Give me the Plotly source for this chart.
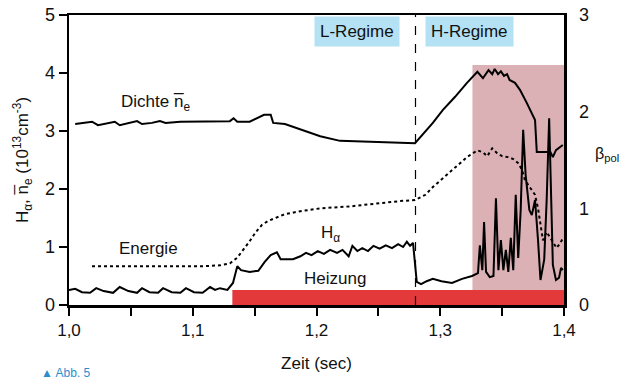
import plotly.graph_objects as go

# ---- data ----
halpha_t = [1.000, 1.005, 1.0105, 1.017, 1.022, 1.028, 1.0356, 1.041, 1.048, 1.055, 1.059, 1.065,
            1.072, 1.076, 1.083, 1.090, 1.0945, 1.101, 1.108, 1.114, 1.118, 1.122, 1.128, 1.1325,
            1.136, 1.139, 1.146, 1.153, 1.158, 1.163, 1.168, 1.171, 1.181, 1.187, 1.1915, 1.196,
            1.201, 1.206, 1.211, 1.2166, 1.221, 1.226, 1.229, 1.233, 1.237, 1.2416, 1.246, 1.251,
            1.256, 1.261, 1.266, 1.270, 1.273, 1.2756, 1.278, 1.281, 1.2845, 1.289, 1.294, 1.301,
            1.3095, 1.3176, 1.3257, 1.3305, 1.332, 1.334, 1.3354, 1.337, 1.340, 1.343, 1.345, 1.347,
            1.349, 1.351, 1.353, 1.355, 1.357, 1.359, 1.361, 1.363, 1.365, 1.367, 1.369, 1.372,
            1.374, 1.3766, 1.379, 1.381, 1.384, 1.386, 1.388, 1.3895, 1.391, 1.3935, 1.396, 1.3976, 1.399]
halpha_v = [0.26, 0.28, 0.22, 0.21, 0.29, 0.24, 0.21, 0.31, 0.24, 0.21, 0.29, 0.22,
            0.21, 0.29, 0.22, 0.21, 0.29, 0.22, 0.21, 0.31, 0.26, 0.29, 0.26, 0.38,
            0.67, 0.60, 0.57, 0.59, 0.74, 0.86, 0.91, 0.79, 0.79, 0.84, 0.90, 0.86,
            0.93, 0.88, 0.95, 0.90, 0.95, 0.84, 1.02, 0.93, 0.98, 0.93, 1.02, 0.97,
            1.03, 0.98, 1.05, 1.00, 1.09, 1.02, 1.07, 0.40, 0.36, 0.41, 0.45, 0.41,
            0.38, 0.45, 0.50, 0.55, 1.03, 0.60, 1.43, 0.57, 0.48, 0.50, 1.84, 0.60,
            1.12, 0.60, 0.95, 0.57, 1.16, 0.60, 1.90, 0.81, 1.64, 3.02, 2.24, 1.64,
            1.55, 1.81, 1.12, 0.43, 0.78, 1.81, 3.22, 1.81, 0.69, 0.43, 0.47, 0.64, 0.60]

dichte_t = [1.005, 1.013, 1.0186, 1.0234, 1.0315, 1.037, 1.041, 1.049, 1.055, 1.059, 1.067, 1.0735,
            1.078, 1.090, 1.102, 1.118, 1.130, 1.133, 1.136, 1.146, 1.153, 1.1576, 1.163, 1.165,
            1.1745, 1.187, 1.203, 1.219, 1.243, 1.2675, 1.2796, 1.294, 1.302, 1.312, 1.3216, 1.330,
            1.3345, 1.339, 1.342, 1.344, 1.3467, 1.349, 1.3515, 1.354, 1.356, 1.3604, 1.3644, 1.370,
            1.3766, 1.378, 1.389, 1.391, 1.3935, 1.399]
dichte_v = [3.12, 3.14, 3.16, 3.10, 3.14, 3.16, 3.10, 3.14, 3.17, 3.12, 3.14, 3.17,
            3.14, 3.16, 3.16, 3.16, 3.17, 3.22, 3.16, 3.16, 3.24, 3.28, 3.28, 3.14,
            3.12, 3.03, 2.91, 2.83, 2.81, 2.79, 2.79, 3.14, 3.36, 3.59, 3.83, 4.02,
            3.91, 4.05, 3.98, 4.07, 3.98, 4.03, 3.95, 3.98, 3.88, 3.83, 3.71, 3.48,
            3.19, 2.64, 2.64, 2.55, 2.67, 2.76]

energie_t = [1.0186, 1.065, 1.106, 1.122, 1.130, 1.136, 1.141, 1.146, 1.151, 1.156, 1.161, 1.1665,
             1.1745, 1.187, 1.203, 1.227, 1.251, 1.2675, 1.2796, 1.288, 1.294, 1.302, 1.312, 1.3216,
             1.330, 1.3345, 1.338, 1.342, 1.346, 1.350, 1.3547, 1.359, 1.3628, 1.366, 1.3685, 1.3725,
             1.3766, 1.379, 1.381, 1.383, 1.386, 1.389, 1.392, 1.394, 1.397, 1.399]
energie_v = [0.40, 0.40, 0.40, 0.41, 0.43, 0.49, 0.57, 0.66, 0.755, 0.83, 0.87, 0.90,
             0.94, 0.97, 1.00, 1.02, 1.055, 1.075, 1.086, 1.14, 1.22, 1.31, 1.42, 1.53,
             1.60, 1.58, 1.54, 1.62, 1.57, 1.54, 1.53, 1.51, 1.47, 1.40, 1.29, 1.21,
             1.14, 1.00, 0.83, 0.67, 0.755, 0.69, 0.62, 0.59, 0.64, 0.69]

heizung_range = [1.132, 1.4]
heizung_height = 0.26
hregime_range = [1.326, 1.4]
hregime_top = 4.14
transition_t = 1.28

x_tickvals = [1.0, 1.05, 1.1, 1.15, 1.2, 1.25, 1.3, 1.35, 1.4]
x_ticktext = ["1,0", "", "1,1", "", "1,2", "", "1,3", "", "1,4"]
y_left_ticks = [0, 1, 2, 3, 4, 5]
y_right_ticks = [0, 1, 2, 3]

FONT = "Liberation Sans, Arial, Helvetica, sans-serif"

fig = go.Figure()

fig.add_trace(go.Scatter(x=dichte_t, y=dichte_v, mode="lines",
                         line=dict(color="black", width=2), showlegend=False))
fig.add_trace(go.Scatter(x=halpha_t, y=halpha_v, mode="lines",
                         line=dict(color="black", width=2), showlegend=False))
fig.add_trace(go.Scatter(x=energie_t, y=energie_v, mode="lines", yaxis="y2",
                         line=dict(color="black", width=2, dash="dot"), showlegend=False))

# H-regime shading (below)
fig.add_shape(type="rect", xref="x", yref="y", x0=hregime_range[0], x1=hregime_range[1],
              y0=heizung_height, y1=hregime_top, fillcolor="#dcb1b5", line_width=0, layer="below")
# heating bar
fig.add_shape(type="rect", xref="x", yref="y", x0=heizung_range[0], x1=heizung_range[1],
              y0=0, y1=heizung_height, fillcolor="#e4393b", line_width=0, layer="above")
# transition line
fig.add_shape(type="line", xref="x", yref="y", x0=transition_t, x1=transition_t, y0=0, y1=5,
              line=dict(color="black", width=1.2, dash="dash"))

ann_font = dict(family=FONT, size=17, color="#111")
fig.add_annotation(x=1.0695, y=3.48, text="Dichte n\u0305<sub>e</sub>", showarrow=False, font=ann_font)
fig.add_annotation(x=1.064, y=0.97, text="Energie", showarrow=False, font=ann_font)
fig.add_annotation(x=1.211, y=1.22, text="H<sub>\u03b1</sub>", showarrow=False, font=ann_font)
fig.add_annotation(x=1.215, y=0.45, text="Heizung", showarrow=False, font=ann_font)
fig.add_annotation(x=1.2325, y=4.71, text="L-Regime", showarrow=False, font=ann_font,
                   bgcolor="#b4e1f4", borderpad=5)
fig.add_annotation(x=1.324, y=4.71, text="H-Regime", showarrow=False, font=ann_font,
                   bgcolor="#b4e1f4", borderpad=5)
fig.add_annotation(xref="paper", yref="paper", x=1.058, y=0.52, xanchor="left",
                   text="\u03b2<sub>pol</sub>", showarrow=False,
                   font=dict(family=FONT, size=16, color="#111"))
fig.add_annotation(xref="paper", yref="paper", x=-0.06, y=-0.235, xanchor="left", yanchor="middle",
                   text="\u25b2 Abb. 5", showarrow=False,
                   font=dict(family=FONT, size=12, color="#2a8fd0"))

fig.update_layout(
    width=619, height=379,
    margin=dict(l=69, r=55, t=15, b=74, autoexpand=False),
    paper_bgcolor="white", plot_bgcolor="white",
    font=dict(family=FONT, size=17, color="#111"),
    xaxis=dict(range=[1.0, 1.4], tickvals=x_tickvals, ticktext=x_ticktext,
               ticks="outside", ticklen=8, tickwidth=2, tickcolor="black",
               showline=True, linecolor="black", linewidth=2.5, mirror=True,
               showgrid=False, zeroline=False, automargin=False,
               tickfont=dict(size=17), ticklabeloverflow="allow",
               title=dict(text="Zeit (sec)", standoff=18, font=dict(size=17))),
    yaxis=dict(range=[0, 5], tickvals=y_left_ticks,
               ticks="outside", ticklen=8, tickwidth=2, tickcolor="black",
               showline=True, linecolor="black", linewidth=2.5, mirror=True,
               showgrid=False, zeroline=False, automargin=False,
               tickfont=dict(size=18), ticklabeloverflow="allow",
               title=dict(text="H<sub>\u03b1</sub>, n\u0305<sub>e</sub> (10<sup>13</sup>cm<sup>-3</sup>)",
                          standoff=12, font=dict(size=17))),
    yaxis2=dict(range=[0, 3], tickvals=y_right_ticks, overlaying="y", side="right",
                showline=False, ticks="", showgrid=False, zeroline=False, automargin=False,
                tickfont=dict(size=18), ticklabelstandoff=14, ticklabeloverflow="allow"),
)

# remove the default page margin so the figure fills the 619x379 window exactly
fig.write_html("out.html", config={"displayModeBar": False, "staticPlot": True},
               post_script="document.body.style.margin='0';document.body.style.overflow='hidden';")
